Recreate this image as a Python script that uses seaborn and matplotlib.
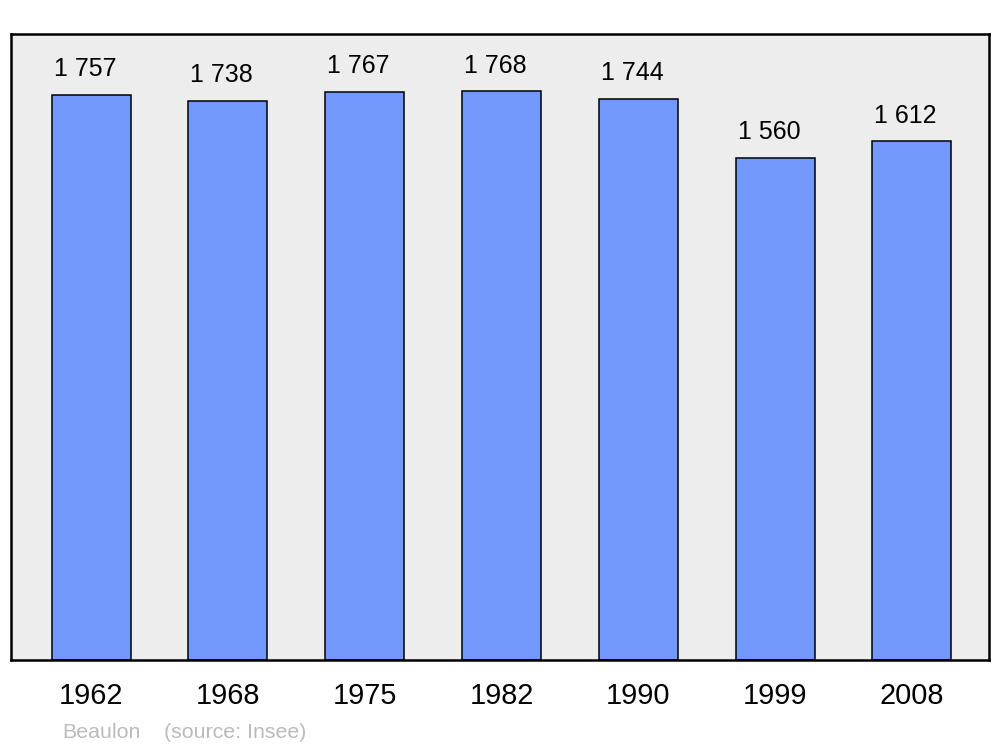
import matplotlib
matplotlib.use("Agg")
import matplotlib.pyplot as plt
import seaborn as sns
import pandas as pd

# data
years = ["1962", "1968", "1975", "1982", "1990", "1999", "2008"]
population = [1757, 1738, 1767, 1768, 1744, 1560, 1612]
labels = ["1 757", "1 738", "1 767", "1 768", "1 744", "1 560", "1 612"]

df = pd.DataFrame({"year": years, "pop": population})

sns.set_style("white")
plt.rcParams["font.family"] = ["Liberation Sans", "DejaVu Sans"]

fig = plt.figure(figsize=(10, 7.47), dpi=100)
ax = fig.add_axes([0.011, 0.1165, 0.978, 0.838])
ax.set_facecolor("#ededed")

sns.barplot(data=df, x="year", y="pop", color="#7399ff", saturation=1,
            width=0.577, edgecolor="black", linewidth=1.1, ax=ax)

# value labels above bars
for i, (v, lab) in enumerate(zip(population, labels)):
    ax.annotate(lab, (i, v), xytext=(-4.5, 18.5), textcoords="offset points",
                ha="center", va="center", fontsize=18, color="black")

ax.set_xlim(-0.585, 6.563)
ax.set_ylim(0, 1946)
ax.set_yticks([])
ax.set_xlabel("")
ax.set_ylabel("")
ax.tick_params(axis="x", length=0, pad=16, labelsize=20.8, labelcolor="black")

for s in ax.spines.values():
    s.set_visible(True)
    s.set_color("black")
    s.set_linewidth(1.8)

fig.text(0.062, 0.020, "Beaulon", color="#bbbbbb", fontsize=15.4, va="center")
fig.text(0.164, 0.020, "(source: Insee)", color="#bbbbbb", fontsize=15.4, va="center")

fig.savefig("out.png", dpi=100)
